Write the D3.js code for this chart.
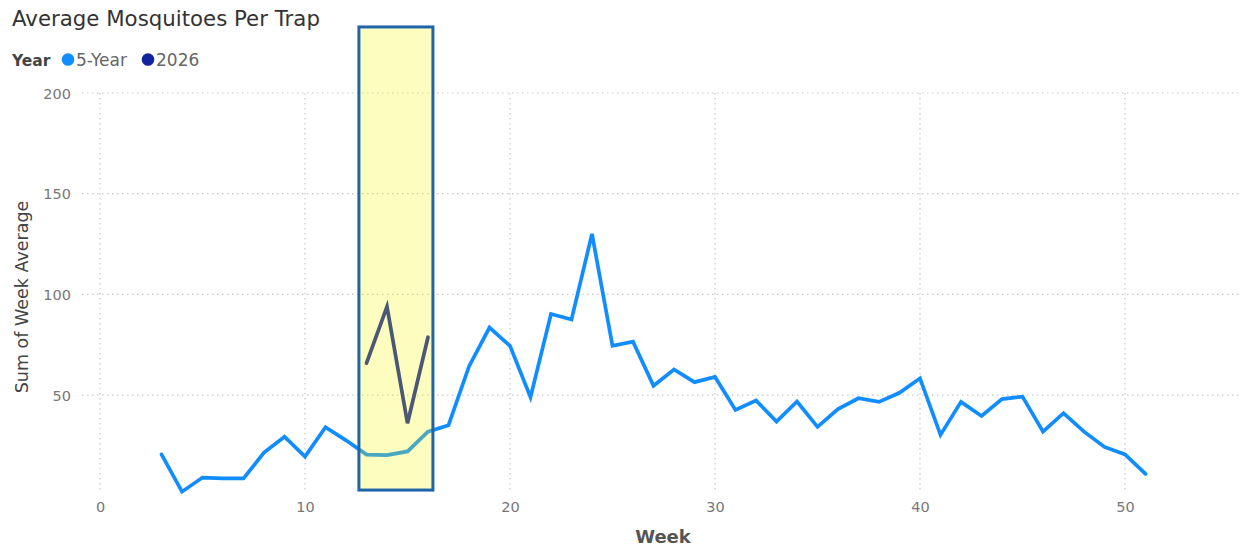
<!DOCTYPE html>
<html>
<head>
<meta charset="utf-8">
<script src="https://cdn.jsdelivr.net/npm/d3@7"></script>
<style>
  html, body { margin: 0; padding: 0; background: #fff; }
  svg { display: block; }
</style>
</head>
<body>
<svg id="chart" width="1241" height="548"></svg>
<script>
// ---- data ----
const weeks5yr = [3,4,5,6,7,8,9,10,11,12,13,14,15,16,17,18,19,20,21,22,23,24,25,26,27,28,29,30,31,32,33,34,35,36,37,38,39,40,41,42,43,44,45,46,47,48,49,50,51];
const values5yr = [20.5,2,9,8.6,8.6,21.4,29.3,19.4,34,27.5,20.4,20.2,22,31.8,35,64.2,83.5,74.4,48.9,90.2,87.5,130,74.4,76.5,54.6,62.7,56.4,59,42.6,47.3,36.8,46.8,34.2,43,48.4,46.6,51.1,58.3,30.2,46.6,39.6,48,49.2,31.8,41,31.8,24.2,20.5,10.8];
const weeks2026 = [13,14,15,16];
const values2026 = [65.8,93.9,36,78.7];
const seriesNames = ["5-Year","2026"];
const yTicks = [50,100,150,200];
const xTicks = [0,10,20,30,40,50];
const highlightWeeks = [12.63, 16.24];
const highlightValues = [2.8, 232.8];

const colors = {"5-Year":"#118DFF","2026":"#12239E"};

const svg = d3.select("#chart");
const font = "'DejaVu Sans', Verdana, sans-serif";

const x = d3.scaleLinear().domain([0, 55.5]).range([100, 1237.75]);
const y = d3.scaleLinear().domain([0, 200]).range([495.7, 93]);

// gridlines
const gH = svg.append("g");
gH.selectAll("line").data(yTicks).join("line")
  .attr("x1", 82).attr("x2", 1240)
  .attr("y1", d => y(d)).attr("y2", d => y(d))
  .attr("stroke", "#c8c8c8").attr("stroke-width", 1.2)
  .attr("stroke-dasharray", "1.5,3.5");
const gV = svg.append("g");
gV.selectAll("line").data(xTicks).join("line")
  .attr("x1", d => x(d)).attr("x2", d => x(d))
  .attr("y1", y(200)).attr("y2", 492)
  .attr("stroke", "#c8c8c8").attr("stroke-width", 1.2)
  .attr("stroke-dasharray", "1.5,3.5");

// axes (library axes, domain/ticks hidden)
const yAxis = svg.append("g").attr("transform", "translate(71,0)")
  .call(d3.axisLeft(y).tickValues(yTicks).tickSize(0).tickPadding(0));
yAxis.select(".domain").remove();
yAxis.selectAll("text").attr("font-family", font).attr("font-size", 14.5).attr("fill", "#777").attr("dy", "0.35em");

const xAxis = svg.append("g").attr("transform", "translate(0,502)")
  .call(d3.axisBottom(x).tickValues(xTicks).tickSize(0).tickPadding(0));
xAxis.select(".domain").remove();
xAxis.selectAll("text").attr("font-family", font).attr("font-size", 14.5).attr("fill", "#777").attr("dy", "0.71em");

// lines
const line = d3.line().x(d => x(d[0])).y(d => y(d[1]));
svg.append("path")
  .datum(weeks5yr.map((w, i) => [w, values5yr[i]]))
  .attr("d", line).attr("fill", "none")
  .attr("stroke", colors["5-Year"]).attr("stroke-width", 3.7)
  .attr("stroke-linejoin", "miter").attr("stroke-linecap", "round");
svg.append("path")
  .datum(weeks2026.map((w, i) => [w, values2026[i]]))
  .attr("d", line).attr("fill", "none")
  .attr("stroke", colors["2026"]).attr("stroke-width", 3.7)
  .attr("stroke-linejoin", "miter").attr("stroke-linecap", "round");

// highlight box overlay
svg.append("rect")
  .attr("x", x(highlightWeeks[0])).attr("y", y(highlightValues[1]))
  .attr("width", x(highlightWeeks[1]) - x(highlightWeeks[0]))
  .attr("height", y(highlightValues[0]) - y(highlightValues[1]))
  .attr("fill", "#f2f600").attr("fill-opacity", 0.25)
  .attr("stroke", "#1f64aa").attr("stroke-width", 3);

// title
svg.append("text").attr("x", 12).attr("y", 26)
  .attr("font-family", font).attr("font-size", 21.3).attr("fill", "#333")
  .text("Average Mosquitoes Per Trap");

// legend
const lg = svg.append("g");
lg.append("text").attr("x", 12).attr("y", 65.5)
  .attr("font-family", font).attr("font-size", 15.5).attr("font-weight", "bold").attr("fill", "#444")
  .text("Year");
const legendX = [68, 148];
seriesNames.forEach((s, i) => {
  lg.append("circle").attr("cx", legendX[i]).attr("cy", 59.5).attr("r", 6.3).attr("fill", colors[s]);
  lg.append("text").attr("x", legendX[i] + 8).attr("y", 65.5)
    .attr("font-family", font).attr("font-size", 17).attr("fill", "#666")
    .text(s);
});

// axis titles
svg.append("text").attr("x", 663).attr("y", 543).attr("text-anchor", "middle")
  .attr("font-family", font).attr("font-size", 18).attr("font-weight", 600).attr("fill", "#555")
  .text("Week");
svg.append("text").attr("transform", "translate(28,297) rotate(-90)").attr("text-anchor", "middle")
  .attr("font-family", font).attr("font-size", 17.5).attr("fill", "#444")
  .text("Sum of Week Average");
</script>
</body>
</html>
